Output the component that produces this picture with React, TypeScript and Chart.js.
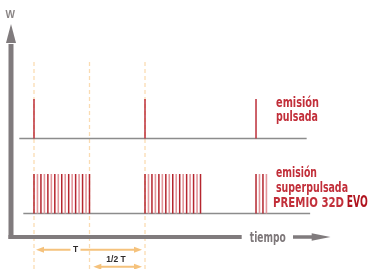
import React, { useEffect, useRef } from "react";
import { Chart, registerables } from "chart.js";

Chart.register(...registerables);

// Time measured in units where one period T = 32
const PERIOD = 32;
const pulseTimes = [0, 32, 64];
const pulseHeights = [1, 1, 1];
const superTimes = [
  0, 1, 2, 3, 4, 5, 6, 7, 8, 9, 10, 11, 12, 13, 14, 15, 16,
  32, 33, 34, 35, 36, 37, 38, 39, 40, 41, 42, 43, 44, 45, 46, 47, 48,
  64, 65, 66, 67,
];
const superHeights = superTimes.map(() => 1);
const guideTimes = [0, 16, 32];

const pulsedLabel = ["emisión", "pulsada"];
const superLabel = ["emisión", "superpulsada", "PREMIO 32D"];
const superLabelTail = "EVO";
const yAxisLabel = "W";
const xAxisLabel = "tiempo";
const periodLabel = "T";
const halfPeriodLabel = "1/2 T";

// lane levels (amplitude units)
const SUPER_BASE = 0;
const PULSED_BASE = 1.9;

const X_MIN = -9.8;
const X_MAX = 96.28;
const Y_MIN = -1.405;
const Y_MAX = 5.405;

const RED = "#c22f3a";
const ORANGE = "#f5c27c";
const GRAY_AXIS = "#807b7d";
const NARROW = '"Liberation Sans Narrow", "DejaVu Sans Condensed", "Arial Narrow", sans-serif';
const SANS = '"Liberation Sans", Arial, sans-serif';

function spikes(times: number[], heights: number[], base: number) {
  const out: any[] = [];
  times.forEach((t, i) => {
    out.push({ x: t, y: base });
    out.push({ x: t, y: base + heights[i] });
    out.push({ x: t, y: null });
  });
  return out;
}

function seg(x1: number, y1: number, x2: number, y2: number) {
  return [{ x: x1, y: y1 }, { x: x2, y: y2 }, { x: x2, y: null }];
}

const decoPlugin = {
  id: "deco",
  afterDatasetsDraw(chart: any) {
    const { ctx } = chart;
    const xs = chart.scales.x;
    const ys = chart.scales.y;
    const X = (t: number) => xs.getPixelForValue(t);
    const Y = (v: number) => ys.getPixelForValue(v);
    ctx.save();

    // axes
    const AX_T = -6.63;
    const AX_V = -0.595;
    ctx.strokeStyle = GRAY_AXIS;
    ctx.fillStyle = GRAY_AXIS;
    ctx.lineCap = "butt";
    ctx.lineWidth = 5;
    ctx.beginPath();
    ctx.moveTo(X(AX_T), Y(AX_V) + 2);
    ctx.lineTo(X(AX_T), Y(4.316) + 1);
    ctx.stroke();
    ctx.beginPath();
    ctx.moveTo(X(AX_T), Y(4.797));
    ctx.lineTo(X(AX_T) - 5, Y(4.316));
    ctx.lineTo(X(AX_T) + 5, Y(4.316));
    ctx.closePath();
    ctx.fill();

    ctx.lineWidth = 4;
    ctx.beginPath();
    ctx.moveTo(X(-7.35), Y(AX_V));
    ctx.lineTo(X(59.87), Y(AX_V));
    ctx.stroke();

    ctx.lineWidth = 3.5;
    ctx.beginPath();
    ctx.moveTo(X(74.66), Y(AX_V));
    ctx.lineTo(X(80.5), Y(AX_V));
    ctx.stroke();
    ctx.beginPath();
    ctx.moveTo(X(85.47), Y(AX_V));
    ctx.lineTo(X(80.05), Y(AX_V) - 3.8);
    ctx.lineTo(X(80.05), Y(AX_V) + 3.8);
    ctx.closePath();
    ctx.fill();

    ctx.fillStyle = "#7d7779";
    ctx.font = "bold 14.5px " + NARROW;
    ctx.textAlign = "center";
    ctx.textBaseline = "alphabetic";
    ctx.fillText(xAxisLabel, X(67.4), Y(-0.71), 36);

    ctx.fillStyle = "#8a8585";
    ctx.font = "bold 10px " + SANS;
    ctx.textBaseline = "middle";
    ctx.fillText(yAxisLabel, X(-6.83), Y(5.025));

    // lane labels
    ctx.fillStyle = RED;
    ctx.textAlign = "left";
    ctx.textBaseline = "alphabetic";
    ctx.font = "bold 14.5px " + NARROW;
    ctx.fillText(pulsedLabel[0], X(69.76), Y(2.696), 43);
    ctx.fillText(pulsedLabel[1], X(69.76), Y(2.342), 42);
    ctx.fillText(superLabel[0], X(69.76), Y(0.916), 41);
    ctx.fillText(superLabel[1], X(69.76), Y(0.552), 72);
    ctx.font = "bold 14.5px " + NARROW;
    ctx.fillText(superLabel[2], X(68.9), Y(0.172), 71);
    ctx.fillStyle = "#b0141f";
    ctx.font = "bold 16px " + NARROW;
    ctx.fillText(superLabelTail, X(90.14), Y(0.157), 21);

    // period dimension arrows
    const arrowHead = (tipX: number, yy: number, dir: number) => {
      ctx.beginPath();
      ctx.moveTo(tipX, yy);
      ctx.lineTo(tipX + dir * 8, yy - 3);
      ctx.lineTo(tipX + dir * 8, yy + 3);
      ctx.closePath();
      ctx.fill();
    };
    ctx.strokeStyle = ORANGE;
    ctx.fillStyle = ORANGE;
    ctx.lineWidth = 2;
    const yT = Y(-0.916);
    const tLabelX = X(11.96);
    const l0 = X(0) + 2;
    const r0 = X(PERIOD) - 3;
    ctx.beginPath();
    ctx.moveTo(l0 + 6, yT);
    ctx.lineTo(tLabelX - 5, yT);
    ctx.moveTo(tLabelX + 5, yT);
    ctx.lineTo(r0 - 6, yT);
    ctx.stroke();
    arrowHead(l0, yT, 1);
    arrowHead(r0, yT, -1);

    const yH = Y(-1.347);
    const l1 = X(PERIOD / 2) + 3.8;
    ctx.beginPath();
    ctx.moveTo(l1 + 6, yH);
    ctx.lineTo(r0 - 6, yH);
    ctx.stroke();
    arrowHead(l1, yH, 1);
    arrowHead(r0, yH, -1);

    ctx.fillStyle = "#2e2a2a";
    ctx.font = "bold 8.5px " + SANS;
    ctx.textAlign = "center";
    ctx.fillText(periodLabel, tLabelX, Y(-0.982));
    ctx.fillText(halfPeriodLabel, X(23.64), Y(-1.22));

    ctx.restore();
  },
};

export default function App() {
  const ref = useRef<HTMLCanvasElement | null>(null);
  useEffect(() => {
    if (!ref.current) return;
    const darkT: number[] = [], darkH: number[] = [], lightT: number[] = [], lightH: number[] = [];
    superTimes.forEach((t, i) => {
      const k = Math.round(t) % 2;
      if (k === 0) { darkT.push(t); darkH.push(superHeights[i]); }
      else { lightT.push(t); lightH.push(superHeights[i]); }
    });
    const guides: any[] = [];
    guideTimes.forEach((t) => guides.push(...seg(t, 3.835, t, Y_MIN)));
    const common = { pointRadius: 0, spanGaps: false, fill: false, tension: 0 };
    const chart = new Chart(ref.current, {
      type: "line",
      data: {
        datasets: [
          { ...common, label: "pulsada", data: spikes(pulseTimes, pulseHeights, PULSED_BASE), borderColor: "#bd2f3a", borderWidth: 1.5, order: 0 },
          { ...common, label: "superpulsada A", data: spikes(darkT, darkH, SUPER_BASE), borderColor: "#b5262f", borderWidth: 1.5, order: 0 },
          { ...common, label: "superpulsada B", data: spikes(lightT, lightH, SUPER_BASE), borderColor: "#e3969b", borderWidth: 1.6, order: 1 },
          { ...common, label: "base", data: [...seg(-4.24, PULSED_BASE, 78.6, PULSED_BASE), ...seg(-3.08, SUPER_BASE, 79.6, SUPER_BASE)], borderColor: "#8c8c8c", borderWidth: 1.5, order: 2 },
          { ...common, label: "guides", data: guides, borderColor: "#fadcb2", borderWidth: 1.3, borderDash: [4, 3], order: 3 },
        ] as any,
      },
      options: {
        responsive: false,
        animation: false,
        devicePixelRatio: 1,
        events: [],
        layout: { padding: 0 },
        plugins: { legend: { display: false }, tooltip: { enabled: false }, title: { display: false } },
        scales: {
          x: { type: "linear", min: X_MIN, max: X_MAX, display: false },
          y: { type: "linear", min: Y_MIN, max: Y_MAX, display: false },
        },
      } as any,
      plugins: [decoPlugin],
    });
    return () => chart.destroy();
  }, []);
  return (
    <div style={{ position: "absolute", left: 0, top: 0, width: 368, height: 269, background: "#fff" }}>
      <canvas ref={ref} width={368} height={269} style={{ display: "block", width: 368, height: 269 }} />
    </div>
  );
}
